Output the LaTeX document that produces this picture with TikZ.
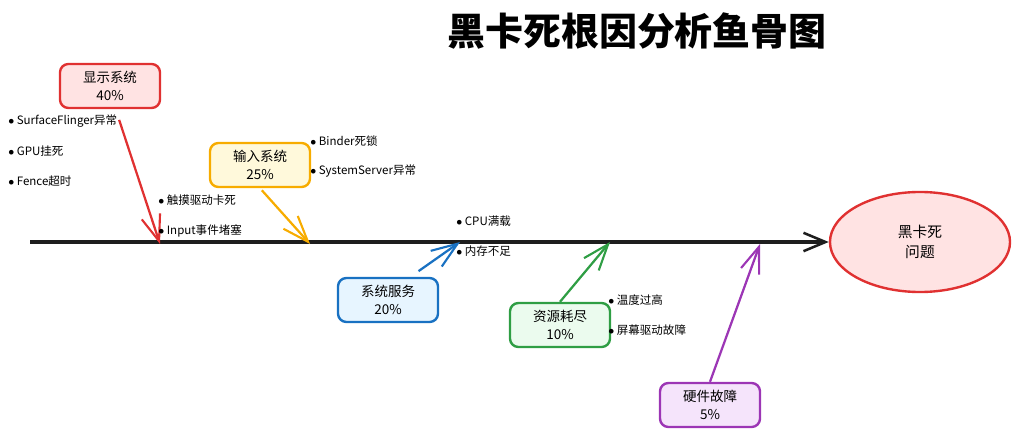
\documentclass[tikz,border=0pt]{standalone}
\usepackage{fontspec}
\setmainfont{Noto Sans CJK SC}
\usepackage{tikz}
\usetikzlibrary{arrows.meta,positioning,shapes.geometric}
\definecolor{exred}{RGB}{224,49,49}
\definecolor{exyellow}{RGB}{247,172,0}
\definecolor{exblue}{RGB}{25,113,194}
\definecolor{exgreen}{RGB}{47,158,68}
\definecolor{expurple}{RGB}{156,54,181}
\definecolor{exredbg}{RGB}{255,227,227}
\definecolor{exyellowbg}{RGB}{255,249,219}
\definecolor{exbluebg}{RGB}{231,245,255}
\definecolor{exgreenbg}{RGB}{235,251,238}
\definecolor{expurplebg}{RGB}{245,228,251}
\definecolor{spine}{RGB}{30,30,30}

\begin{document}
\begin{tikzpicture}[x=.025cm,y=-.025cm,font=\fontsize{8.2}{10}\selectfont,
cat/.style={draw=#1,fill=#1bg,line width=1.7pt,rounded corners=6pt,align=center,
  minimum width=2.5cm,minimum height=1.1cm,inner sep=2pt,font=\fontsize{9.6}{13}\selectfont},
bone/.style={-{Straight Barb[length=6.5mm,width=4.8mm,line width=1.5pt]},line width=1.6pt,draw=#1},
cause/.style={anchor=west,inner sep=0pt}]
\useasboundingbox(0,0)rectangle(1020,439);

\node[font=\fontsize{27}{30}\selectfont\bfseries](title)at(637,31){黑卡死根因分析鱼骨图};

\node[ellipse,draw=exred,fill=exredbg,line width=1.7pt,minimum width=4.5cm,minimum height=2.5cm,
  align=center,font=\fontsize{10.5}{14}\selectfont](head)at(920,242){黑卡死\\问题};
\coordinate(tail)at(30,242);
\draw[spine,line width=2.2pt,-{Straight Barb[length=5.5mm,width=4.6mm,line width=1.8pt]}](tail)--(head.west);

% spine joints
\coordinate(jdisp)at(160,244);
\coordinate(jinp)at(310,244);
\coordinate(jsvc)at(460,242);
\coordinate(jres)at(610,242);
\coordinate(jhw)at(760,244);

\node[cat=exred](disp)at(110,86){显示系统\\40\%};
\node[cat=exyellow](inp)at(260,165){输入系统\\25\%};
\node[cat=exblue](svc)at(388,300){系统服务\\20\%};
\node[cat=exgreen](res)at(560,325){资源耗尽\\10\%};
\node[cat=expurple](hw)at(710,405){硬件故障\\5\%};

\draw[bone=exred,shorten <=8pt]([xshift=4pt]disp.south)--(jdisp);
\draw[bone=exyellow,shorten <=2pt](inp.south)--(jinp);
\draw[bone=exblue,shorten <=7pt]([xshift=16pt]svc.north)--(jsvc);
\draw[bone=exgreen](res.north)--(jres);
\draw[bone=expurple](hw.north)--(jhw);

% causes
\node[cause](c1)at(8,121){$\bullet$\ SurfaceFlinger异常};
\node[cause](c2)at(8,151){$\bullet$\ GPU挂死};
\node[cause](c3)at(8,181){$\bullet$\ Fence超时};
\node[cause](c4)at(158,200){$\bullet$\ 触摸驱动卡死};
\node[cause](c5)at(158,231){$\bullet$\ Input事件堵塞};
\node[cause](c6)at(310,141){$\bullet$\ Binder死锁};
\node[cause](c7)at(310,171){$\bullet$\ SystemServer异常};
\node[cause](c8)at(456,221){$\bullet$\ CPU满载};
\node[cause](c9)at(456,251){$\bullet$\ 内存不足};
\node[cause](c10)at(608,300){$\bullet$\ 温度过高};
\node[cause](c11)at(608,330){$\bullet$\ 屏幕驱动故障};
\end{tikzpicture}
\end{document}
